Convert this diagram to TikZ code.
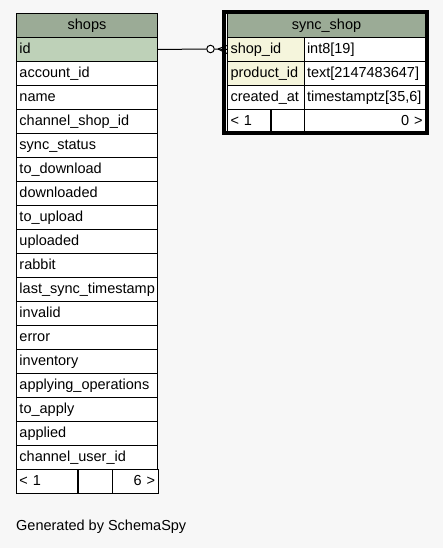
\documentclass[tikz,border=0pt]{standalone}
\usepackage{fontspec}
\usetikzlibrary{calc}
\setmainfont{Liberation Sans}
\definecolor{bg}{HTML}{F7F7F7}
\definecolor{hdr}{HTML}{9BAB96}
\definecolor{pk}{HTML}{BED1B8}
\definecolor{keycol}{HTML}{F5F5DC}
\begin{document}
\begin{tikzpicture}[x=1pt,y=-1pt,
  every node/.style={font=\fontsize{14.5}{16}\selectfont},
  cell/.style={draw=black, line width=1pt, rectangle, anchor=north west, inner sep=3pt, minimum height=24pt, text height=10.5pt, text depth=3pt},
  lcell/.style={cell, align=left},
  hcell/.style={cell, fill=hdr, align=center},
  link/.style={draw=black, line width=1pt}]
\useasboundingbox (0,0) rectangle (443,548);
\fill[bg] (0,0) rectangle (443,548);

% shops table
\node[hcell, text width=135pt] (sh) at (16,13) {shops};
\node[lcell, fill=pk, text width=135pt] (r0) at (16,37) {id};
\foreach \t [count=\i] in {account\_id,name,channel\_shop\_id,sync\_status,to\_download,downloaded,to\_upload,uploaded,rabbit,last\_sync\_timestamp,invalid,error,inventory,applying\_operations,to\_apply,applied,channel\_user\_id}{
  \node[lcell, fill=white, text width=135pt] (r\i) at (16,37+24*\i) {\t};
}
\node[lcell, fill=white, text width=55pt] (f1) at (16,469) {< 1};
\node[lcell, fill=white, text width=28pt] (f2) at (77.5,469) {};
\node[cell, fill=white, text width=40pt, align=right] (f3) at (111.5,469) {6 >};

% sync_shop table
\node[hcell, text width=192pt] (ss) at (227,13) {sync\_shop};
\node[lcell, fill=keycol, text width=70.5pt] (k1) at (227,37) {shop\_id};
\node[lcell, fill=white, text width=115.5pt] (t1) at (303.5,37) {int8[19]};
\node[lcell, fill=keycol, text width=70.5pt] (k2) at (227,61) {product\_id};
\node[lcell, fill=white, text width=115.5pt] (t2) at (303.5,61) {text[2147483647]};
\node[lcell, fill=white, text width=70.5pt] (k3) at (227,85) {created\_at};
\node[lcell, fill=white, text width=115.5pt] (t3) at (303.5,85) {timestamptz[35,6]};
\node[lcell, fill=white, text width=37pt] (g1) at (227,109) {< 1};
\node[lcell, fill=white, text width=27pt] (g2) at (270.5,109) {};
\node[cell, fill=white, text width=115.5pt, align=right] (g3) at (303.5,109) {0 >};
\draw[line width=4pt] (224.3,12) rectangle (427.3,133);

% connector
\node[draw=black, line width=1pt, circle, fill=white, inner sep=0pt, minimum size=7.5pt] (circ) at (210.5,49) {};
\coordinate (cf) at (218,49);
\draw[link] (r0.east) -- (circ.west);
\draw[link] (circ.east) -- (k1.west);
\draw[link] (cf) -- ($(k1.west)+(0,-4)$);
\draw[link] (cf) -- ($(k1.west)+(0,4)$);

\node[anchor=west, inner sep=0pt] (gen) at (16,527) {Generated by SchemaSpy};
\end{tikzpicture}
\end{document}
